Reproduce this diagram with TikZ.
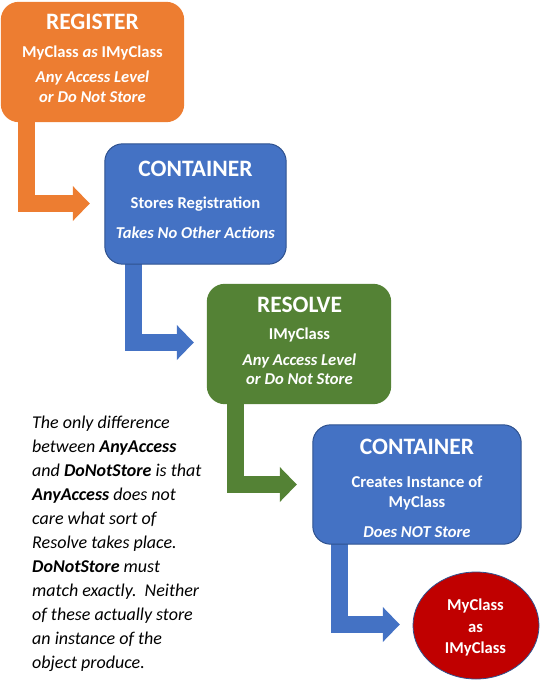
\documentclass[tikz,border=0pt]{standalone}
\usepackage{fontspec}
\setmainfont{Carlito}
\usetikzlibrary{arrows.meta,shapes.geometric}
\definecolor{cOrange}{HTML}{ED7D31}
\definecolor{cBlue}{HTML}{4472C4}
\definecolor{cBlueDark}{HTML}{2F528F}
\definecolor{cGreen}{HTML}{548235}
\definecolor{cRed}{HTML}{C00000}
\tikzset{
  box/.style={rounded corners=18pt, inner sep=0pt},
  ttl/.style={anchor=base, text=white, font=\fontsize{23.5}{28}\selectfont\bfseries},
  sub/.style={anchor=base, text=white, font=\fontsize{16.6}{19}\selectfont\bfseries},
  isub/.style={anchor=base, text=white, font=\fontsize{16.6}{19}\selectfont\bfseries\itshape},
  note/.style={anchor=base west, text=black, inner sep=0pt, font=\fontsize{18}{24}\selectfont\itshape},
  elbow/.style={line width=17pt, -{Triangle[length=17pt,width=34pt]}},
}
\begin{document}
\begin{tikzpicture}[x=1pt,y=-1pt]
\useasboundingbox (0,0) rectangle (547,688);
% box placeholders (named), arrows drawn next, then the filled shapes on top
\path (92.5,62) node[box, minimum width=183pt, minimum height=120pt] (reg) {};
\path (195.5,204) node[box, minimum width=181pt, minimum height=120pt] (con1) {};
\path (299,344) node[box, minimum width=184pt, minimum height=120pt] (res) {};
\path (417,484.5) node[box, minimum width=208pt, minimum height=119pt] (con2) {};
\path (476,625.5) node[ellipse, inner sep=0pt, minimum width=126pt, minimum height=107pt] (out) {};
% elbow arrows
\draw[elbow, cOrange] ([xshift=25.5pt,yshift=6pt]reg.south west) |- ([xshift=-15pt,yshift=0.5pt]con1.west);
\draw[elbow, cBlue] ([xshift=28.5pt,yshift=6pt]con1.south west) |- ([xshift=-13pt,yshift=1.5pt]res.west);
\draw[elbow, cGreen] ([xshift=28.5pt,yshift=6pt]res.south west) |- ([xshift=-16pt]con2.west);
\draw[elbow, cBlue] ([xshift=26.5pt,yshift=6pt]con2.south west) |- ([xshift=-13pt,yshift=1pt]out.west);
% shapes on top
\fill[cOrange, rounded corners=18pt] (reg.north west) rectangle (reg.south east);
\draw[fill=cBlue, draw=cBlueDark, line width=1pt, rounded corners=18pt] (con1.north west) rectangle (con1.south east);
\fill[cGreen, rounded corners=18pt] (res.north west) rectangle (res.south east);
\draw[fill=cBlue, draw=cBlueDark, line width=1pt, rounded corners=18pt] (con2.north west) rectangle (con2.south east);
\draw[fill=cRed, draw=cBlueDark, line width=0.8pt] (out.center) ellipse [x radius=63pt, y radius=53.5pt];
% texts
\node[ttl] (t1) at (92.5,29) {REGISTER};
\node[sub] (t1a) at (92.5,57) {MyClass \textit{as} IMyClass};
\node[isub] (t1b) at (92.5,82) {Any Access Level};
\node[isub] (t1c) at (92.5,102) {or Do Not Store};
\node[ttl] (t2) at (195.5,176) {CONTAINER};
\node[sub] (t2a) at (195.5,208) {Stores Registration};
\node[isub] (t2b) at (195.5,238) {Takes No Other Actions};
\node[ttl] (t3) at (299.5,312) {RESOLVE};
\node[sub] (t3a) at (299.5,339) {IMyClass};
\node[isub] (t3b) at (299.5,365) {Any Access Level};
\node[isub] (t3c) at (299.5,384) {or Do Not Store};
\node[ttl] (t4) at (417,454) {CONTAINER};
\node[sub] (t4a) at (417,487) {Creates Instance of};
\node[sub] (t4b) at (417,507) {MyClass};
\node[isub] (t4c) at (417,537) {Does NOT Store};
\node[sub] (t5a) at (475.5,610) {MyClass};
\node[sub] (t5b) at (475.5,632) {as};
\node[sub] (t5c) at (475.5,653) {IMyClass};
% note
\node[note] (n1) at (32,428) {The only difference};
\node[note] (n2) at (32,452) {between \textbf{AnyAccess}};
\node[note] (n3) at (32,476) {and \textbf{DoNotStore} is that};
\node[note] (n4) at (32,500) {\textbf{AnyAccess} does not};
\node[note] (n5) at (32,524) {care what sort of};
\node[note] (n6) at (32,548) {Resolve takes place.};
\node[note] (n7) at (32,572) {\textbf{DoNotStore} must};
\node[note] (n8) at (32,596) {match exactly.\ \ Neither};
\node[note] (n9) at (32,620) {of these actually store};
\node[note] (n10) at (32,644) {an instance of the};
\node[note] (n11) at (32,668) {object produce.};
\end{tikzpicture}
\end{document}
